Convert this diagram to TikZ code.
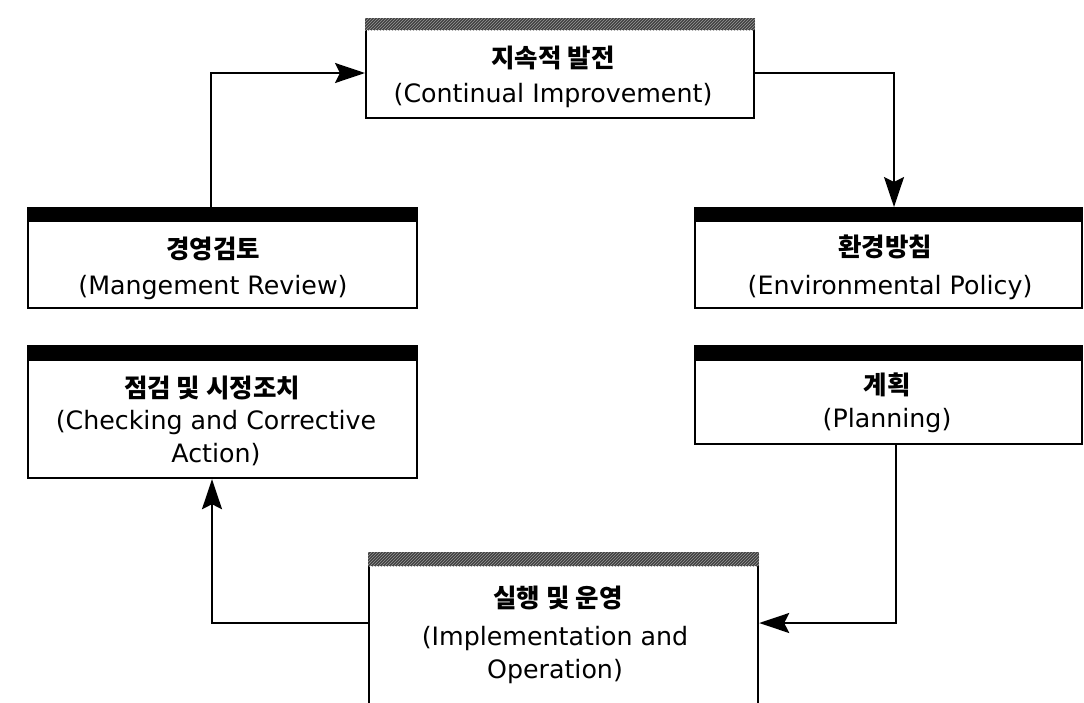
\documentclass[tikz,border=0pt]{standalone}
\usepackage{fontspec}
\setmainfont{DejaVu Sans}
\newfontfamily\kr{Noto Sans CJK KR}
\usetikzlibrary{arrows.meta,calc,patterns}
\begin{document}
\begin{tikzpicture}[x=1pt,y=-1pt,
  box/.style={draw=black, line width=2.2pt, fill=white, anchor=north west, inner sep=0pt},
  darkbar/.style={fill=black},
  graybar/.style={fill=black!75},
  kor/.style={font=\kr\bfseries\fontsize{25.5}{30}\selectfont, inner sep=0pt},
  eng/.style={font=\fontsize{25.3}{33}\selectfont, align=center, inner sep=0pt},
  conn/.style={line width=2.2pt, -{Stealth[length=30pt,width=20pt,inset=5pt]}},
]
\clip (0,0) rectangle (1084,702);
\fill[white] (0,0) rectangle (1084,702);

% boxes
\node[box, minimum width=388pt, minimum height=99pt] (top) at (365,18) {};
\node[box, minimum width=389pt, minimum height=100pt] (mgmt) at (27,207) {};
\node[box, minimum width=387pt, minimum height=100pt] (env) at (694,207) {};
\node[box, minimum width=389pt, minimum height=132pt] (check) at (27,345) {};
\node[box, minimum width=387pt, minimum height=98pt] (plan) at (694,345) {};
\node[box, minimum width=389pt, minimum height=200pt] (bot) at (368,552) {};

% header bars
\fill[graybar] (top.north west) rectangle ($(top.north east)+(0,12)$);
\fill[pattern=north east lines, pattern color=black!40] (top.north west) rectangle ($(top.north east)+(0,12)$);
\fill[darkbar] (mgmt.north west) rectangle ($(mgmt.north east)+(0,15)$);
\fill[darkbar] (env.north west) rectangle ($(env.north east)+(0,15)$);
\fill[darkbar] (check.north west) rectangle ($(check.north east)+(0,16)$);
\fill[darkbar] (plan.north west) rectangle ($(plan.north east)+(0,16)$);
\fill[graybar] (bot.north west) rectangle ($(bot.north east)+(0,14)$);
\fill[pattern=north east lines, pattern color=black!40] (bot.north west) rectangle ($(bot.north east)+(0,14)$);

% texts
\node[kor] (topK) at (553,58) {지속적 발전};
\node[eng] (topE) at (553,96) {(Continual Improvement)};
\node[kor] (mgmtK) at (213,249) {경영검토};
\node[eng] (mgmtE) at (213,288) {(Mangement Review)};
\node[kor] (envK) at (885,247) {환경방침};
\node[eng] (envE) at (890,288) {(Environmental Policy)};
\node[kor] (checkK) at (212,388) {점검 및 시정조치};
\node[eng] (checkE) at (216,438) {(Checking and Corrective\\Action)};
\node[kor] (planK) at (887,385) {계획};
\node[eng] (planE) at (887,421) {(Planning)};
\node[kor] (botK) at (558,598) {실행 및 운영};
\node[eng] (botE) at (555,655) {(Implementation and\\Operation)};

% connectors
\coordinate (c1) at (211,73);
\coordinate (c2) at (894,73);
\coordinate (c3) at (896,623);
\coordinate (c4) at (212,623);
\draw[conn] (mgmt.north -| c1) -- (c1) -- (c1 -| top.west);
\draw[conn] (c2 -| top.east) -- (c2) -- (c2 |- env.north);
\draw[conn] (c3 |- plan.south) -- (c3) -- (c3 -| bot.east);
\draw[conn] (c4 -| bot.west) -- (c4) -- (c4 |- check.south);
\end{tikzpicture}
\end{document}
